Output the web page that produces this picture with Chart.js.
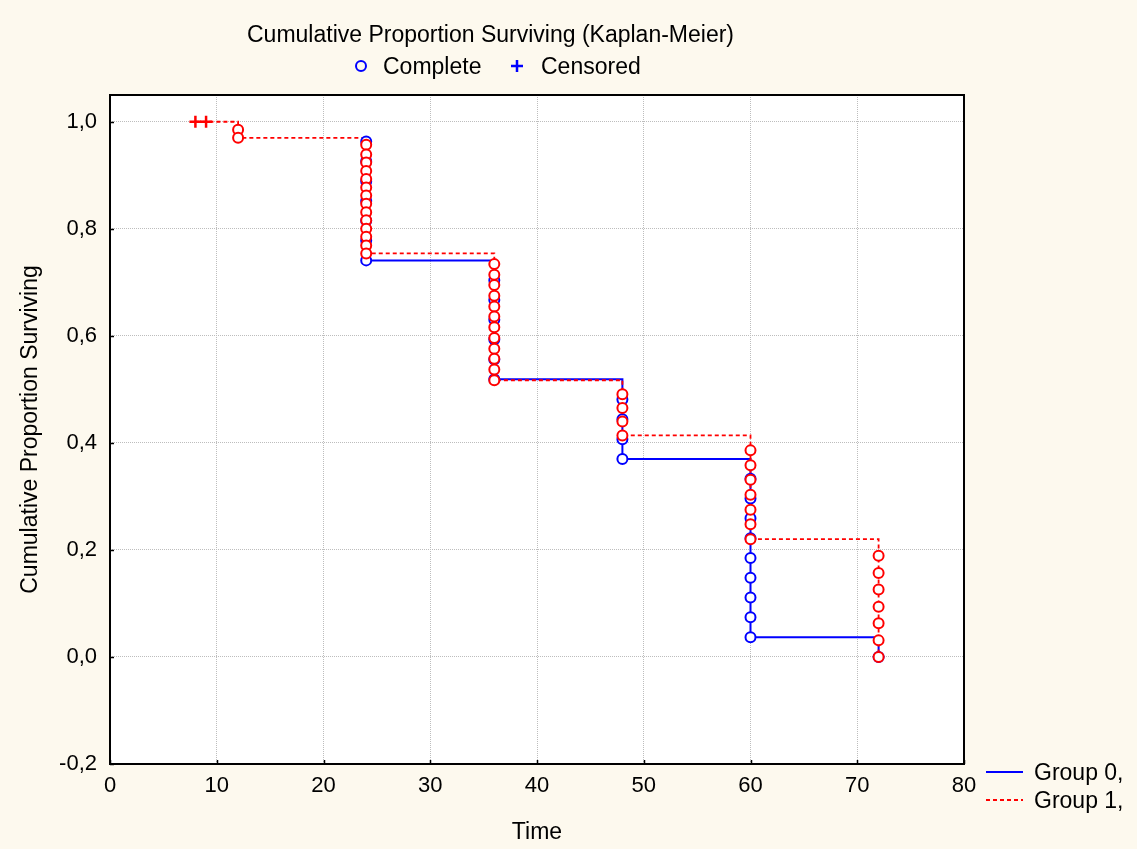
<!DOCTYPE html>
<html>
<head>
<meta charset="utf-8">
<title>Kaplan-Meier</title>
<script src="https://cdn.jsdelivr.net/npm/chart.js@4.4.0/dist/chart.umd.min.js"></script>
<style>
    html, body { margin: 0; padding: 0; background: #fdf9ee; }
    #wrap { width: 1137px; height: 849px; }
</style>
</head>
<body>
<div id="wrap"><canvas id="kmChart" width="1137" height="849"></canvas></div>
<script>
// ===== DATOS =====
// Tiempos de evento y supervivencia acumulada (escalones) por grupo
const group0Start = [24, 0.963]
const group0Times = [24, 36, 48, 60, 72]
const group0Surv = [0.741, 0.519, 0.370, 0.037, 0.0]

const group1Start = [8, 1.0]
const group1Times = [12, 24, 36, 48, 60, 72]
const group1Surv = [0.970, 0.754, 0.517, 0.414, 0.220, 0.0]

// Circulos "Complete" en cada tiempo (mismo orden que los tiempos)
const group0Complete = [
    [0.963, 0.926, 0.889, 0.852, 0.815, 0.778, 0.741],
    [0.704, 0.667, 0.630, 0.593, 0.556, 0.519],
    [0.481, 0.444, 0.407, 0.370],
    [0.333, 0.296, 0.259, 0.222, 0.185, 0.148, 0.111, 0.074, 0.037],
    [0.0],
]
const group1Complete = [
    [0.985, 0.970],
    [0.957, 0.939, 0.924, 0.908, 0.893, 0.877, 0.862, 0.847, 0.831, 0.816, 0.800, 0.785, 0.769, 0.754],
    [0.734, 0.714, 0.695, 0.675, 0.655, 0.636, 0.616, 0.596, 0.576, 0.557, 0.537, 0.517],
    [0.491, 0.465, 0.440, 0.414],
    [0.386, 0.358, 0.331, 0.303, 0.275, 0.248, 0.220],
    [0.189, 0.157, 0.126, 0.094, 0.063, 0.031, 0.0],
]

// Censurados (grupo 1)
const group1CensTimes = [8, 9]
const group1CensSurv = [1.0, 1.0]

// Marcas de los ejes
const xTicks = [0, 10, 20, 30, 40, 50, 60, 70, 80]
const yTicks = [-0.2, 0, 0.2, 0.4, 0.6, 0.8, 1.0]

// ===== ESTILOS =====
const BLUE = '#0000ff'
const RED = '#ff0000'
const FONT = "'Liberation Sans', Arial, sans-serif"

// Construir puntos
function stepPoints(start, times, surv) {
    const pts = [{ x: start[0], y: start[1] }]
    times.forEach((t, i) => pts.push({ x: t, y: surv[i] }))
    return pts
}

function circlePoints(times, values) {
    const pts = []
    times.forEach((t, i) => {
        values[i].forEach(v => pts.push({ x: t, y: v }))
    })
    return pts
}

// Plugin: fondo, marco, titulo y leyendas
const kmDecor = {
    id: 'kmDecor',
    beforeDraw(chart) {
        const { ctx, chartArea: a } = chart
        ctx.save()
        ctx.fillStyle = '#fdf9ee'
        ctx.fillRect(0, 0, chart.width, chart.height)
        ctx.fillStyle = '#ffffff'
        ctx.fillRect(a.left, a.top, a.right - a.left, a.bottom - a.top)
        ctx.restore()
    },
    afterDraw(chart) {
        const { ctx, chartArea: a } = chart
        const xs = chart.scales.x
        const ys = chart.scales.y
        ctx.save()

        // Marco
        ctx.strokeStyle = '#000'
        ctx.lineWidth = 2
        ctx.strokeRect(a.left, a.top, a.right - a.left, a.bottom - a.top)

        // Marcas hacia dentro
        ctx.lineWidth = 1.5
        ctx.beginPath()
        yTicks.forEach(v => {
            const py = Math.round(ys.getPixelForValue(v)) + 0.5
            ctx.moveTo(a.left, py)
            ctx.lineTo(a.left + 4, py)
        })
        xTicks.forEach(v => {
            const px = Math.round(xs.getPixelForValue(v)) + 0.5
            ctx.moveTo(px, a.bottom)
            ctx.lineTo(px, a.bottom - 4)
        })
        ctx.stroke()

        // Titulo
        ctx.fillStyle = '#000'
        ctx.font = `23px ${FONT}`
        ctx.textBaseline = 'alphabetic'
        ctx.textAlign = 'left'
        ctx.fillText('Cumulative Proportion Surviving (Kaplan-Meier)', 247, 42)

        // Leyenda superior
        ctx.fillText('Complete', 383, 74)
        ctx.fillText('Censored', 541, 74)
        ctx.strokeStyle = BLUE
        ctx.lineWidth = 2
        ctx.beginPath()
        ctx.arc(361, 66, 5, 0, Math.PI * 2)
        ctx.stroke()
        ctx.lineWidth = 2.5
        ctx.beginPath()
        ctx.moveTo(511, 66)
        ctx.lineTo(523, 66)
        ctx.moveTo(517, 60)
        ctx.lineTo(517, 72)
        ctx.stroke()

        // Leyenda de grupos
        ctx.lineWidth = 2
        ctx.strokeStyle = BLUE
        ctx.beginPath()
        ctx.moveTo(986, 772)
        ctx.lineTo(1023, 772)
        ctx.stroke()
        ctx.strokeStyle = RED
        ctx.lineWidth = 1.8
        ctx.setLineDash([4, 3])
        ctx.beginPath()
        ctx.moveTo(986, 800)
        ctx.lineTo(1023, 800)
        ctx.stroke()
        ctx.setLineDash([])
        ctx.fillStyle = '#000'
        ctx.fillText('Group 0,', 1034, 780)
        ctx.fillText('Group 1,', 1034, 808)

        ctx.restore()
    },
}

const ctx = document.getElementById('kmChart')

// eslint-disable-next-line no-new, no-undef
new Chart(ctx, {
    type: 'scatter',
    data: {
        datasets: [
            {
                label: 'Censored group 1',
                data: group1CensTimes.map((t, i) => ({ x: t, y: group1CensSurv[i] })),
                pointStyle: 'cross',
                pointRadius: 6,
                borderWidth: 2.5,
                borderColor: RED,
                showLine: false,
                order: 1,
            },
            {
                label: 'Complete group 1',
                data: circlePoints(group1Times, group1Complete),
                pointStyle: 'circle',
                pointRadius: 5,
                borderWidth: 2,
                borderColor: RED,
                backgroundColor: '#ffffff',
                showLine: false,
                order: 2,
            },
            {
                label: 'Complete group 0',
                data: circlePoints(group0Times, group0Complete),
                pointStyle: 'circle',
                pointRadius: 5,
                borderWidth: 2,
                borderColor: BLUE,
                backgroundColor: '#ffffff',
                showLine: false,
                order: 3,
            },
            {
                label: 'Group 1,',
                type: 'line',
                data: stepPoints(group1Start, group1Times, group1Surv),
                stepped: 'before',
                showLine: true,
                fill: false,
                borderColor: RED,
                borderWidth: 1.8,
                borderDash: [4, 3],
                pointRadius: 0,
                order: 4,
            },
            {
                label: 'Group 0,',
                type: 'line',
                data: stepPoints(group0Start, group0Times, group0Surv),
                stepped: 'before',
                showLine: true,
                fill: false,
                borderColor: BLUE,
                borderWidth: 2,
                pointRadius: 0,
                order: 5,
            },
        ],
    },
    options: {
        responsive: false,
        animation: false,
        events: [],
        layout: {
            padding: { top: 95, right: 173, left: 0, bottom: 0 },
        },
        plugins: {
            legend: { display: false },
            title: { display: false },
            tooltip: { enabled: false },
        },
        scales: {
            x: {
                type: 'linear',
                min: 0,
                max: 80,
                afterBuildTicks: scale => {
                    scale.ticks = xTicks.map(v => ({ value: v }))
                },
                afterFit: scale => {
                    scale.height = 85
                },
                ticks: {
                    color: '#000',
                    font: { family: FONT, size: 22 },
                    padding: 9,
                    maxRotation: 0,
                },
                grid: {
                    color: '#bdbdbd',
                    lineWidth: 1,
                    drawTicks: false,
                },
                border: { display: false, dash: [1, 1] },
                title: {
                    display: true,
                    text: 'Time',
                    color: '#000',
                    font: { family: FONT, size: 23 },
                    padding: { top: 0, bottom: 3 },
                },
            },
            y: {
                type: 'linear',
                min: -0.2,
                max: 1.05,
                afterBuildTicks: scale => {
                    scale.ticks = yTicks.map(v => ({ value: v }))
                },
                afterFit: scale => {
                    scale.width = 110
                },
                ticks: {
                    color: '#000',
                    font: { family: FONT, size: 22 },
                    padding: 13,
                    callback: v => v.toFixed(1).replace('.', ','),
                },
                grid: {
                    color: '#bdbdbd',
                    lineWidth: 1,
                    drawTicks: false,
                },
                border: { display: false, dash: [1, 1] },
                title: {
                    display: true,
                    text: 'Cumulative Proportion Surviving',
                    color: '#000',
                    font: { family: FONT, size: 23 },
                    padding: { top: 17, bottom: 0 },
                },
            },
        },
    },
    plugins: [kmDecor],
})
</script>
</body>
</html>
